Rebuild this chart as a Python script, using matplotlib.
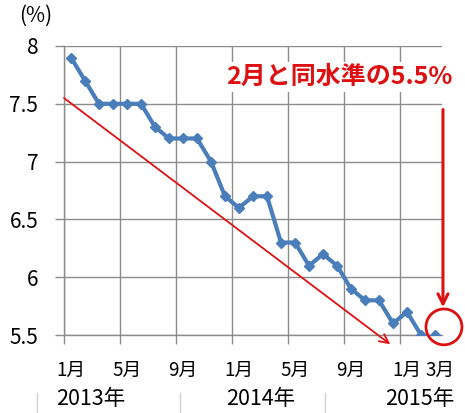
import numpy as np
import matplotlib.pyplot as plt
import matplotlib.transforms as mtransforms
from matplotlib.patches import Ellipse
from matplotlib.lines import Line2D

plt.rcParams['font.family'] = ['Noto Sans CJK JP', 'DejaVu Sans']

# 2013/1 .. 2015/3 monthly values (%)
rates = [7.9, 7.7, 7.5, 7.5, 7.5, 7.5, 7.3, 7.2, 7.2, 7.2, 7.0, 6.7,
         6.6, 6.7, 6.7, 6.3, 6.3, 6.1, 6.2, 6.1, 5.9, 5.8, 5.8, 5.6,
         5.7, 5.5, 5.5]
month_pos = [0, 4, 8, 12, 16, 20, 24, 26]
month_labels = ["1月", "5月", "9月", "1月", "5月", "9月", "1月", "3月"]
year_labels = ["2013年", "2014年", "2015年"]
y_ticks = [5.5, 6, 6.5, 7, 7.5, 8]
y_labels = ["5.5", "6", "6.5", "7", "7.5", "8"]

W, H = 465, 413
fig = plt.figure(figsize=(W / 100, H / 100), dpi=100)
ax = fig.add_axes([64 / W, 78 / H, 378 / W, 289 / H])

blue = "#4a7ebb"
red = "#dd1111"
grid_c = "#8c8c8c"

x = np.arange(len(rates))
ax.plot(x[:-1], rates[:-1], color=blue, lw=3, marker="D", ms=5.5, zorder=3)
ax.plot(x[-1:], rates[-1:], color=blue, lw=0, marker="D", ms=5.5, zorder=3)

ax.set_xlim(-0.5, len(rates) - 0.5)
ax.set_ylim(5.5, 8)

# gridlines between categories
ax.set_xticks(np.arange(-0.5, 24, 4))
ax.set_xticks(month_pos, minor=True)
ax.set_xticklabels([])
ax.set_xticklabels(month_labels, minor=True, fontsize=13.5)
ax.tick_params(axis="x", which="major", length=6.5, color=grid_c, width=1)
ax.tick_params(axis="x", which="minor", length=0, pad=18)
# nudge the last month label right a little, as in the original
last = ax.xaxis.get_minor_ticks()[-1].label1
last.set_transform(last.get_transform() +
                   mtransforms.ScaledTranslation(5 / 100, 0, fig.dpi_scale_trans))
ax.set_yticks(y_ticks)
ax.set_yticklabels(y_labels, fontsize=15)
ax.tick_params(axis="y", length=6.5, color=grid_c, width=1, pad=12)
ax.grid(True, which="major", color=grid_c, lw=1)
ax.set_axisbelow(True)
for s in ["top", "right"]:
    ax.spines[s].set_visible(False)
for s in ["left", "bottom"]:
    ax.spines[s].set_color(grid_c)
    ax.spines[s].set_linewidth(1)

# trend arrow
ax.annotate("", xy=(22.8, 5.42), xytext=(-0.5, 7.55),
            arrowprops=dict(arrowstyle="->", color=red, lw=1.3,
                            mutation_scale=16, shrinkA=0, shrinkB=0),
            annotation_clip=False)
# vertical arrow to last point
ax.annotate("", xy=(26.57, 5.74), xytext=(26.57, 7.45),
            arrowprops=dict(arrowstyle="->", color=red, lw=2.2,
                            mutation_scale=18, shrinkA=0, shrinkB=0),
            annotation_clip=False)
ax.add_patch(Ellipse((26.64, 5.57), 2.57, 0.31, fill=False, ec=red,
                     lw=2, clip_on=False, zorder=4))

fig.text(339 / W, 1 - 77 / H, "2月と同水準の5.5%", color=red, fontsize=18,
         fontweight="bold", ha="center", va="center",
         bbox=dict(fc="white", ec="none", pad=2))
fig.text(36 / W, 1 - 16 / H, "(%)", fontsize=15, ha="center", va="center")

for lab, px in zip(year_labels, [91, 261, 420]):
    fig.text(px / W, 1 - 399 / H, lab, fontsize=15.5, ha="center", va="center")
for px in [37, 180, 325]:
    fig.add_artist(Line2D([px / W, px / W], [0, 20 / H], color="#d0d0d0", lw=1))

fig.savefig("out.png", dpi=100)
